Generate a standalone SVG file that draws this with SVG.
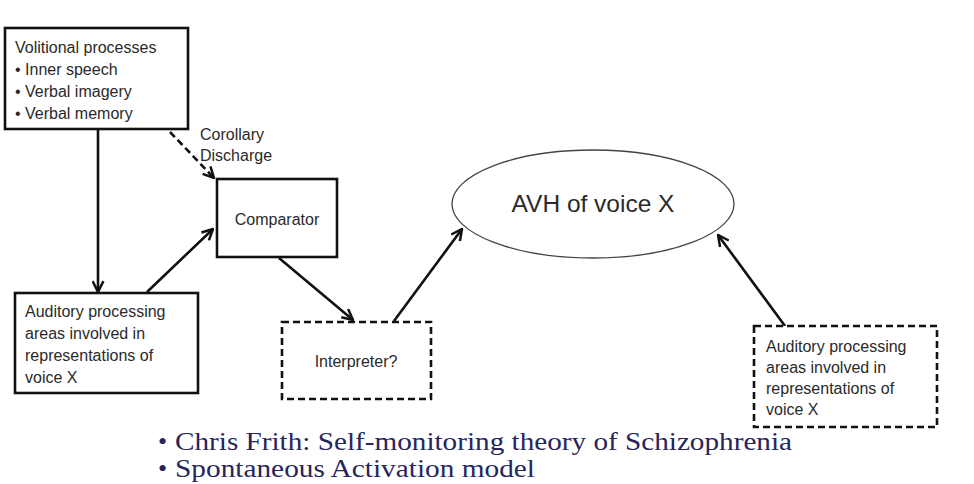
<svg xmlns="http://www.w3.org/2000/svg" width="974" height="484" viewBox="0 0 974 484">
<defs>
<marker id="arr" viewBox="0 0 12 12" refX="11" refY="6" markerWidth="13" markerHeight="13" markerUnits="userSpaceOnUse" orient="auto">
<path d="M1,1 L11,6 L1,11" fill="none" stroke="#111" stroke-width="2.3"/>
</marker>
<style>
.box{fill:#fff;stroke:#111;stroke-width:2.6}
.dbox{fill:#fff;stroke:#111;stroke-width:2.6;stroke-dasharray:7 4}
.t{font-family:"Liberation Sans",Arial,sans-serif;font-size:16px;fill:#2a2a2a}
.line{fill:none;stroke:#111;stroke-width:2.6;marker-end:url(#arr)}
.bt{font-family:"Liberation Serif","Times New Roman",serif;font-size:26px;fill:#26265e}
</style>
</defs>
<rect width="974" height="484" fill="#fff"/>
<g id="connectors">
<line class="line" x1="98" y1="130" x2="98" y2="292"/>
<line class="line" x1="147" y1="292" x2="213" y2="229"/>
<line class="line" x1="170" y1="132" x2="214" y2="178" style="stroke-dasharray:7 4"/>
<line class="line" x1="279" y1="258" x2="353" y2="320"/>
<line class="line" x1="394" y1="321" x2="462" y2="229"/>
<line class="line" x1="785" y1="326" x2="718" y2="235"/>
</g>
<g id="volitional">
<rect class="box" x="5" y="28" width="183" height="101"/>
<text class="t" x="15" y="53">Volitional processes</text>
<text class="t" x="15" y="75">• Inner speech</text>
<text class="t" x="15" y="97">• Verbal imagery</text>
<text class="t" x="15" y="119">• Verbal memory</text>
</g>
<g id="corollary">
<text class="t" x="200" y="140">Corollary</text>
<text class="t" x="200" y="161">Discharge</text>
</g>
<g id="comparator">
<rect class="box" x="217" y="179" width="120" height="78"/>
<text class="t" x="277" y="225" text-anchor="middle">Comparator</text>
</g>
<g id="auditory-left">
<rect class="box" x="15" y="293" width="183" height="100"/>
<text class="t" x="25" y="317">Auditory processing</text>
<text class="t" x="25" y="339">areas involved in</text>
<text class="t" x="25" y="361">representations of</text>
<text class="t" x="25" y="383">voice X</text>
</g>
<g id="interpreter">
<rect class="dbox" x="282" y="322" width="149" height="77"/>
<text class="t" x="356" y="367" text-anchor="middle">Interpreter?</text>
</g>
<g id="avh">
<ellipse cx="593" cy="204" rx="141" ry="54" fill="#fff" stroke="#444" stroke-width="1.3"/>
<text x="593" y="212" text-anchor="middle" style="font-family:'Liberation Sans',Arial,sans-serif;font-size:24.5px;fill:#2a2a2a">AVH of voice X</text>
</g>
<g id="auditory-right">
<rect class="dbox" x="754" y="326" width="183" height="101"/>
<text class="t" x="766" y="352">Auditory processing</text>
<text class="t" x="766" y="373">areas involved in</text>
<text class="t" x="766" y="394">representations of</text>
<text class="t" x="766" y="415">voice X</text>
</g>
<g id="bullets">
<text class="bt" x="158" y="450">•</text>
<text class="bt" x="175" y="450" textLength="617" lengthAdjust="spacingAndGlyphs">Chris Frith: Self-monitoring theory of Schizophrenia</text>
<text class="bt" x="158" y="477">•</text>
<text class="bt" x="175" y="477" textLength="360" lengthAdjust="spacingAndGlyphs">Spontaneous Activation model</text>
</g>
</svg>
